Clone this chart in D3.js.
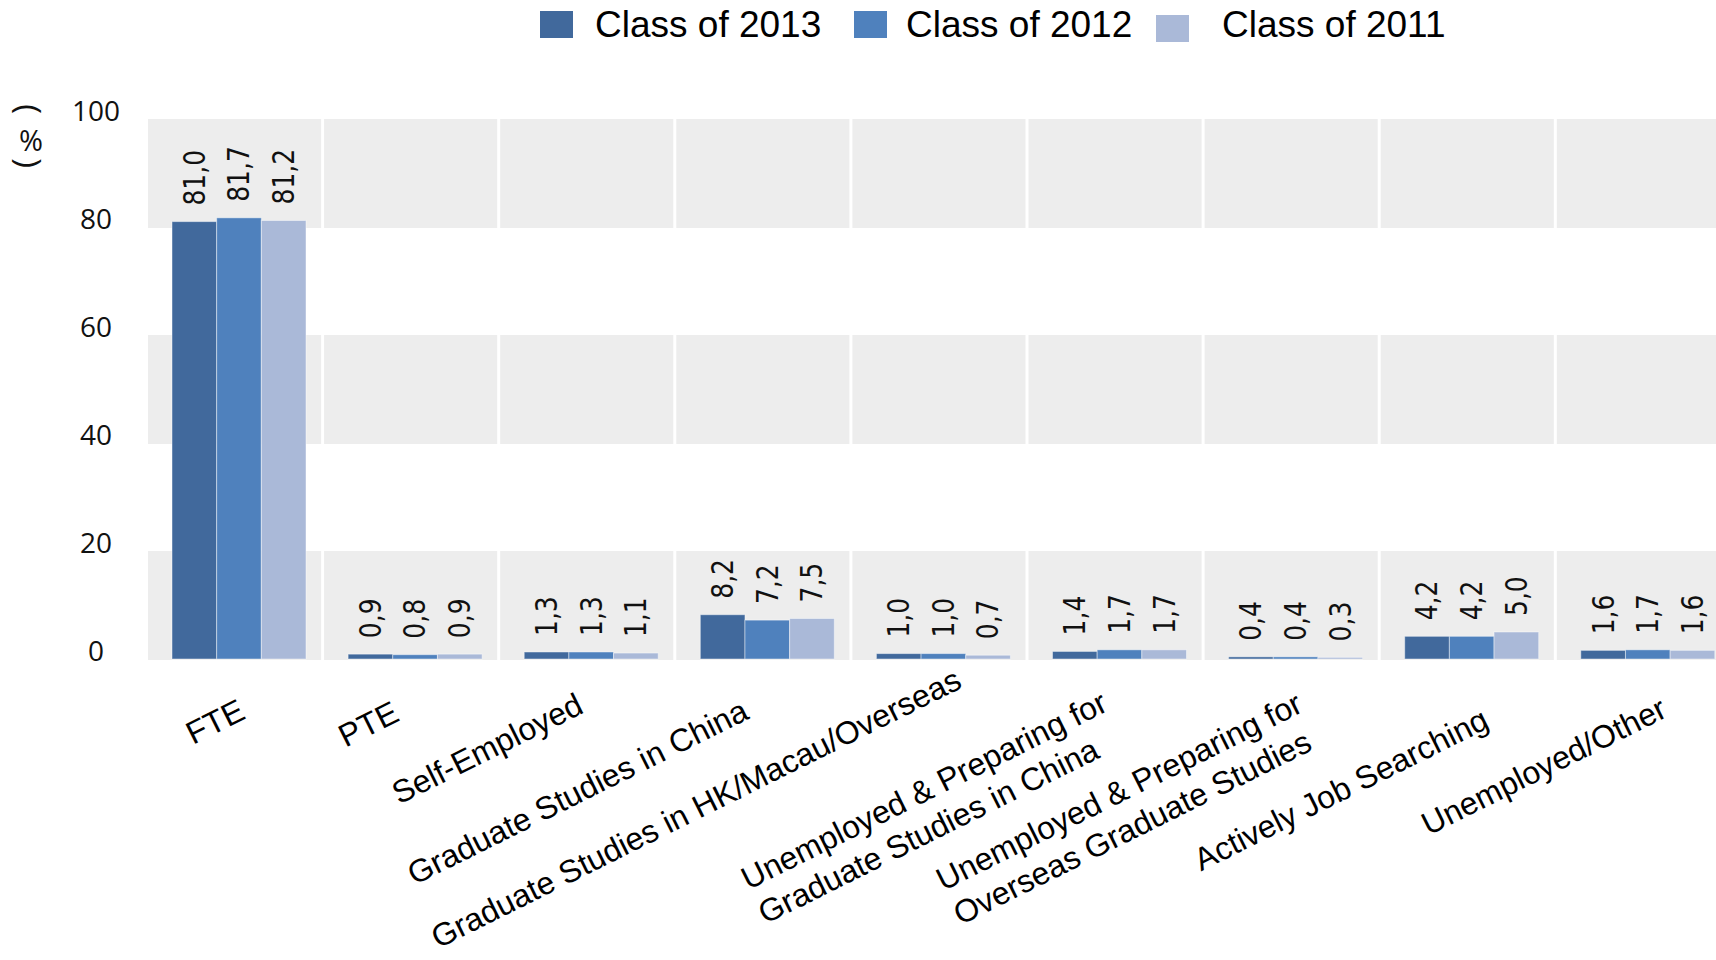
<!DOCTYPE html>
<html>
<head>
<meta charset="utf-8">
<script src="https://cdn.jsdelivr.net/npm/d3@7/dist/d3.min.js"></script>
<style>
  html, body { margin: 0; padding: 0; background: #ffffff; }
  svg { display: block; }
</style>
</head>
<body>
<svg id="chart" width="1716" height="960"></svg>
<script>
// Graduate destinations by class, percentages
const categories = [
  ["FTE"],
  ["PTE"],
  ["Self-Employed"],
  ["Graduate Studies in China"],
  ["Graduate Studies in HK/Macau/Overseas"],
  ["Unemployed & Preparing for", "Graduate Studies in China"],
  ["Unemployed & Preparing for", "Overseas Graduate Studies"],
  ["Actively Job Searching"],
  ["Unemployed/Other"]
];
const seriesNames = ["Class of 2013", "Class of 2012", "Class of 2011"];
const class2013 = [81.0, 0.9, 1.3, 8.2, 1.0, 1.4, 0.4, 4.2, 1.6];
const class2012 = [81.7, 0.8, 1.3, 7.2, 1.0, 1.7, 0.4, 4.2, 1.7];
const class2011 = [81.2, 0.9, 1.1, 7.5, 0.7, 1.7, 0.3, 5.0, 1.6];
const yTicks = [0, 20, 40, 60, 80, 100];
const shadedRanges = [[80, 100], [40, 60], [0, 20]];
const seriesColors = ["#41699c", "#4f81bd", "#aab9d8"];

// Small per-label nudges for the rotated category labels (dx, dy)
const labelNudge = [[5, 4], [-17, 6], [-9, -2], [-20, 4], [17, -27], [-13, -4], [6, -3], [16, 13], [18, 2]];

const seriesValues = [class2013, class2012, class2011];
const rows = categories.map((lines, i) => ({
  i, lines,
  values: seriesNames.map((s, k) => ({ series: s, k, value: seriesValues[k][i] }))
}));

const svg = d3.select("#chart");

// Scales
const colWidth = 176.1;
const x0 = d3.scaleBand()
  .domain(d3.range(categories.length))
  .range([148, 148 + colWidth * categories.length])
  .padding(0);
const x1 = d3.scaleBand()
  .domain(d3.range(seriesNames.length))
  .range([24, 158])
  .padding(0);
const y = d3.scaleLinear().domain([0, 100]).range([659, 119]);

// Shaded bands, split per column by thin white gaps
const bandG = svg.append("g");
shadedRanges.forEach(([lo, hi]) => {
  bandG.selectAll(null)
    .data(rows)
    .join("rect")
    .attr("x", d => x0(d.i))
    .attr("y", y(hi))
    .attr("width", x0.bandwidth() - 3)
    .attr("height", y(lo) - y(hi) + 1)
    .attr("fill", "#ededed");
});

// Bars
const groups = svg.append("g")
  .selectAll("g")
  .data(rows)
  .join("g")
  .attr("transform", d => `translate(${x0(d.i)},0)`);

groups.selectAll("rect")
  .data(d => d.values)
  .join("rect")
  .attr("x", d => x1(d.k))
  .attr("y", d => y(d.value))
  .attr("width", x1.bandwidth())
  .attr("height", d => y(0) - y(d.value))
  .attr("fill", d => seriesColors[d.k])
  .attr("stroke", "rgba(255,255,255,0.45)")
  .attr("stroke-width", 1);

// Value labels, vertical, decimal comma
const fmt = v => d3.format(".1f")(v).replace(".", ",");
groups.selectAll("text")
  .data(d => d.values)
  .join("text")
  .attr("transform", d => `translate(${x1(d.k) + x1.bandwidth() / 2},${y(d.value) - 16}) rotate(-90) scale(1,1.22)`)
  .attr("dominant-baseline", "central")
  .attr("text-anchor", "start")
  .attr("font-family", "DejaVu Sans, sans-serif")
  .attr("font-size", 25)
  .attr("fill", "#111")
  .text(d => fmt(d.value));

// Y axis tick labels
svg.append("g")
  .selectAll("text")
  .data(yTicks)
  .join("text")
  .attr("x", 96)
  .attr("y", d => y(d) - 9)
  .attr("text-anchor", "middle")
  .attr("dominant-baseline", "central")
  .attr("font-family", "Open Sans, sans-serif")
  .attr("font-size", 28)
  .attr("fill", "#111")
  .text(d => d);

// Unit label "( % )" stacked vertically, brackets turned sideways
const unitG = svg.append("g").attr("font-family", "Open Sans, sans-serif").attr("fill", "#111");
unitG.append("text")
  .attr("transform", "translate(29,109) rotate(90)")
  .attr("text-anchor", "middle").attr("dominant-baseline", "central")
  .attr("font-size", 33).text("(");
unitG.append("text").attr("x", 31).attr("y", 139).attr("text-anchor", "middle")
  .attr("dominant-baseline", "central").attr("font-size", 29).text("%");
unitG.append("text")
  .attr("transform", "translate(29,163) rotate(90)")
  .attr("text-anchor", "middle").attr("dominant-baseline", "central")
  .attr("font-size", 33).text(")");

// Category labels, rotated; lines left-aligned, block ends at the anchor
const catG = svg.append("g")
  .selectAll("g")
  .data(rows)
  .join("g")
  .attr("transform", d => `translate(${x0(d.i) + x0.bandwidth() / 2 + 6 + labelNudge[d.i][0]},${714 + labelNudge[d.i][1]}) rotate(-26.5)`);
const catText = catG.append("text")
  .attr("text-anchor", "start")
  .attr("font-family", "Liberation Sans, Arial, sans-serif")
  .attr("font-size", 32)
  .attr("fill", "#000");
catText.selectAll("tspan")
  .data(d => d.lines)
  .join("tspan")
  .attr("x", 0)
  .attr("dy", (d, j) => j === 0 ? 0 : "1.2em")
  .text(d => d);
catText.each(function() {
  const spans = d3.select(this).selectAll("tspan").nodes();
  const w = d3.max(spans, n => n.getComputedTextLength());
  d3.select(this).selectAll("tspan").attr("x", -w);
});

// Legend
const legendX = [540, 854, 1156];
const legendTextGap = [55, 52, 66];
const legend = svg.append("g")
  .selectAll("g")
  .data(seriesNames)
  .join("g")
  .attr("transform", (d, k) => `translate(${legendX[k]},${k === 2 ? 4 : 0})`);
legend.append("rect")
  .attr("x", 0).attr("y", 11)
  .attr("width", 33).attr("height", 27)
  .attr("fill", (d, k) => seriesColors[k]);
legend.append("text")
  .attr("x", (d, k) => legendTextGap[k])
  .attr("y", (d, k) => k === 2 ? 33 : 37)
  .attr("font-family", "Liberation Sans, Arial, sans-serif")
  .attr("font-size", 37)
  .attr("fill", "#000")
  .text(d => d);
</script>
</body>
</html>
